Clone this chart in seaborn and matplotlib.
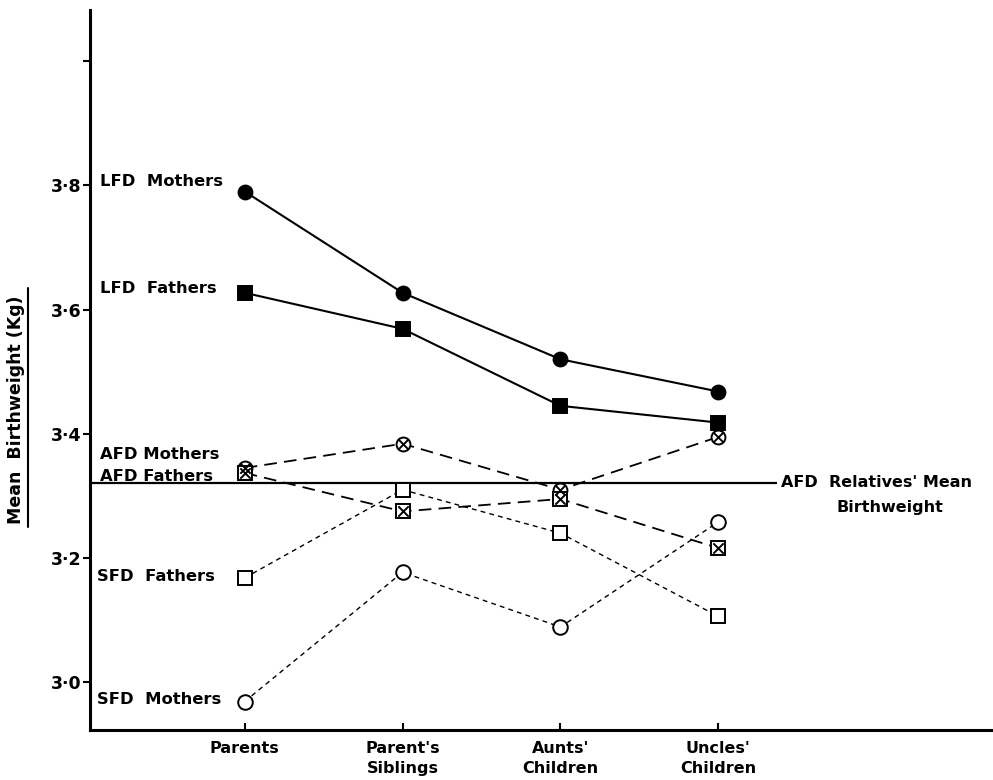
import seaborn as sns
import pandas as pd
import matplotlib.pyplot as plt
from matplotlib.lines import Line2D

# ---- data ----
groups = ["Parents", "Parent's\nSiblings", "Aunts'\nChildren", "Uncles'\nChildren"]
lfd_mothers = [3.790, 3.627, 3.520, 3.468]
lfd_fathers = [3.627, 3.569, 3.445, 3.418]
afd_mothers = [3.345, 3.384, 3.310, 3.395]
afd_fathers = [3.337, 3.275, 3.295, 3.216]
sfd_fathers = [3.168, 3.310, 3.240, 3.106]
sfd_mothers = [2.969, 3.177, 3.089, 3.258]
afd_mean = 3.321
y_ticks = [3.0, 3.2, 3.4, 3.6, 3.8, 4.0]
y_ticklabels = ["3·0", "3·2", "3·4", "3·6", "3·8", ""]

sns.set_style("ticks")
plt.rcParams['font.family'] = ['DejaVu Sans']
plt.rcParams['font.weight'] = 'bold'
for k in ['axes.edgecolor', 'text.color', 'xtick.color', 'ytick.color', 'axes.labelcolor']:
    plt.rcParams[k] = 'black'

rows = []
for name, vals in [("LFD Mothers", lfd_mothers), ("LFD Fathers", lfd_fathers),
                   ("AFD Mothers", afd_mothers), ("AFD Fathers", afd_fathers),
                   ("SFD Fathers", sfd_fathers), ("SFD Mothers", sfd_mothers)]:
    for i, v in enumerate(vals):
        rows.append({"series": name, "pos": i, "kg": v})
df = pd.DataFrame(rows)

# line style, marker, marker face, overlay-x, line width
styles = {
    "LFD Mothers": ("-", "o", "black", False, 1.5),
    "LFD Fathers": ("-", "s", "black", False, 1.5),
    "AFD Mothers": ((0, (7, 4)), "o", "white", True, 1.3),
    "AFD Fathers": ((0, (7, 4)), "s", "white", True, 1.3),
    "SFD Fathers": ((0, (3.5, 3)), "s", "white", False, 1.0),
    "SFD Mothers": ((0, (3.5, 3)), "o", "white", False, 1.0),
}

fig = plt.figure(figsize=(9.93, 7.80), dpi=100)
ax = fig.add_axes([0.0906, 0.064, 0.9094, 0.923])

for name, (ls, mk, face, crossed, lw) in styles.items():
    sub = df[df.series == name]
    ms = 10 if face == "black" else 10.5
    if crossed:
        ms = 10
    sns.lineplot(data=sub, x="pos", y="kg", ax=ax, color="black", linestyle=ls,
                 linewidth=lw, marker=mk, markersize=ms, markerfacecolor=face,
                 markeredgecolor="black", markeredgewidth=1.4, zorder=3)
    if crossed:
        sns.scatterplot(data=sub, x="pos", y="kg", ax=ax, marker="x", s=55,
                        color="black", linewidth=1.4, zorder=4)

# AFD relatives' mean reference line
ax.hlines(afd_mean, -0.98, 3.37, color="black", linewidth=1.6, zorder=2)
ax.text(3.40, afd_mean, "AFD  Relatives' Mean", ha="left", va="center",
        fontsize=11.5, fontweight="bold")
ax.text(3.75, afd_mean - 0.039, "Birthweight", ha="left", va="center",
        fontsize=11.5, fontweight="bold")

# series labels at left
labels = [("LFD  Mothers", 3.806), ("LFD  Fathers", 3.634), ("AFD Mothers", 3.366),
          ("AFD Fathers", 3.331), ("SFD  Fathers", 3.171), ("SFD  Mothers", 2.973)]
for txt, yy in labels:
    xx = -0.915 if not txt.startswith("SFD") else -0.935
    ax.text(xx, yy, txt, ha="left", va="center", fontsize=11.8, fontweight="bold")

ax.set_xlim(-0.98, 4.74)
ax.set_ylim(2.923, 4.082)
ax.set_xticks(range(len(groups)))
ax.set_xticklabels(groups, fontsize=11.5, fontweight="bold", linespacing=1.4)
ax.set_yticks(y_ticks)
ax.set_yticklabels(y_ticklabels, fontsize=12.5, fontweight="bold")
ax.tick_params(axis="x", direction="in", length=5, width=1.5, pad=8)
ax.tick_params(axis="y", direction="out", length=5, width=1.5, pad=1)
ax.set_xlabel("")
ax.set_ylabel("")
sns.despine(ax=ax, top=True, right=True)
for s in ["left", "bottom"]:
    ax.spines[s].set_linewidth(2.2)

# rotated, underlined y label
fig.text(0.016, 0.475, "Mean  Birthweight (Kg)", rotation=90, ha="center",
         va="center", fontsize=12.5, fontweight="bold")
fig.add_artist(Line2D([0.0285, 0.0285], [1 - 527 / 780, 1 - 288 / 780],
                      color="black", linewidth=1.5))

fig.savefig("out.png", dpi=100)
